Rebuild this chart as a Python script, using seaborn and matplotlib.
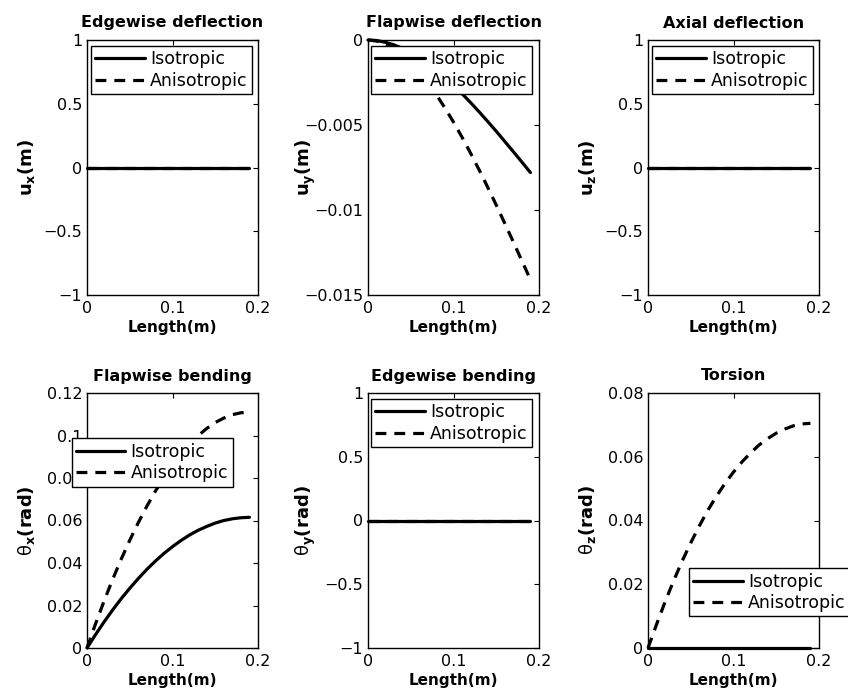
import numpy as np
import pandas as pd
import matplotlib
matplotlib.use("Agg")
import matplotlib.pyplot as plt
import seaborn as sns

# ---------------- data ----------------
length = [0.00, 0.01, 0.02, 0.03, 0.04, 0.05, 0.06, 0.07, 0.08, 0.09,
          0.10, 0.11, 0.12, 0.13, 0.14, 0.15, 0.16, 0.17, 0.18, 0.19]

zeros = [0.0] * 20

uy_iso = [0, -0.00003, -0.00013, -0.00028, -0.00048, -0.00074, -0.00104, -0.00139,
          -0.00178, -0.00221, -0.00267, -0.00316, -0.00368, -0.00423, -0.00479,
          -0.00537, -0.00597, -0.00657, -0.00718, -0.0078]
uy_aniso = [0, -0.00006, -0.00023, -0.00050, -0.00087, -0.00134, -0.00189, -0.00252,
            -0.00322, -0.00400, -0.00483, -0.00572, -0.00666, -0.00764, -0.00866,
            -0.00971, -0.01079, -0.01188, -0.01299, -0.0141]

thx_iso = [0, 0.0063, 0.0123, 0.0179, 0.0232, 0.0281, 0.0327, 0.0370, 0.0409, 0.0445,
           0.0477, 0.0506, 0.0532, 0.0554, 0.0572, 0.0588, 0.0600, 0.0608, 0.0613, 0.0615]
thx_aniso = [0, 0.0114, 0.0221, 0.0323, 0.0418, 0.0507, 0.0590, 0.0667, 0.0738, 0.0803,
             0.0861, 0.0913, 0.0959, 0.0999, 0.1033, 0.1061, 0.1082, 0.1098, 0.1107, 0.1110]

thz_iso = zeros
thz_aniso = [0, 0.0074, 0.0145, 0.0211, 0.0273, 0.0330, 0.0383, 0.0432, 0.0476, 0.0516,
             0.0552, 0.0584, 0.0612, 0.0637, 0.0657, 0.0674, 0.0687, 0.0697, 0.0703, 0.0705]

titles = ["Edgewise deflection", "Flapwise deflection", "Axial deflection",
          "Flapwise bending", "Edgewise bending", "Torsion"]
ylabels = [r"u$_\mathbf{x}$(m)", r"u$_\mathbf{y}$(m)", r"u$_\mathbf{z}$(m)",
           r"$\mathrm{\theta}_\mathbf{x}$(rad)", r"$\mathrm{\theta}_\mathbf{y}$(rad)",
           r"$\mathrm{\theta}_\mathbf{z}$(rad)"]
series_iso = [zeros, uy_iso, zeros, thx_iso, zeros, thz_iso]
series_aniso = [zeros, uy_aniso, zeros, thx_aniso, zeros, thz_aniso]

unit_ticks = [-1, -0.5, 0, 0.5, 1]
unit_labels = ["\u22121", "\u22120.5", "0", "0.5", "1"]
uy_ticks = [-0.015, -0.01, -0.005, 0]
uy_labels = ["\u22120.015", "\u22120.01", "\u22120.005", "0"]
thx_ticks = [0, 0.02, 0.04, 0.06, 0.08, 0.1, 0.12]
thx_labels = ["0", "0.02", "0.04", "0.06", "0.08", "0.1", "0.12"]
thz_ticks = [0, 0.02, 0.04, 0.06, 0.08]
thz_labels = ["0", "0.02", "0.04", "0.06", "0.08"]
x_ticks = [0, 0.1, 0.2]
x_labels = ["0", "0.1", "0.2"]

yticks_all = [unit_ticks, uy_ticks, unit_ticks, thx_ticks, unit_ticks, thz_ticks]
ylabels_all = [unit_labels, uy_labels, unit_labels, thx_labels, unit_labels, thz_labels]

# ---------------- style ----------------
sns.set_style("white")
plt.rcParams.update({
    "font.family": ["DejaVu Sans"],
    "mathtext.fontset": "dejavusans",
    "xtick.direction": "in",
    "ytick.direction": "in",
    "xtick.top": True,
    "ytick.right": True,
    "xtick.major.size": 3.5,
    "ytick.major.size": 3.5,
    "xtick.major.width": 0.8,
    "ytick.major.width": 0.8,
    "axes.edgecolor": "black",
    "axes.linewidth": 1.0,
    "xtick.color": "black",
    "ytick.color": "black",
    "text.color": "black",
    "axes.labelcolor": "black",
})

fig = plt.figure(figsize=(8.48, 6.97), dpi=100)
W, H = 848.0, 697.0
lefts = [87, 368, 648]
tops = [40, 393]
aw, ah = 171, 255

# legend anchors (axes fraction: left, top)
leg_anchor = [(0.023, 0.976), (0.018, 0.976), (0.023, 0.976),
              (-0.09, 0.822), (0.018, 0.976), (0.24, 0.3125)]

for i in range(6):
    r, c = divmod(i, 3)
    ax = fig.add_axes([lefts[c] / W, 1 - (tops[r] + ah) / H, aw / W, ah / H])
    df = pd.DataFrame({"Length": length, "iso": series_iso[i], "aniso": series_aniso[i]})
    sns.lineplot(data=df, x="Length", y="iso", ax=ax, color="black", lw=2.3,
                 label="Isotropic", clip_on=False)
    sns.lineplot(data=df, x="Length", y="aniso", ax=ax, color="black", lw=2.3,
                 linestyle=(0, (3.4, 2.5)), label="Anisotropic", clip_on=False)
    ax.set_xlim(0, 0.2)
    yt = yticks_all[i]
    ax.set_ylim(yt[0], yt[-1])
    ax.set_xticks(x_ticks)
    ax.set_xticklabels(x_labels, fontsize=11.5)
    ax.set_yticks(yt)
    ax.set_yticklabels(ylabels_all[i], fontsize=11.5)
    ax.tick_params(axis="y", pad=3.5)
    ax.tick_params(axis="x", pad=4.5)
    ax.set_title(titles[i], fontsize=11.5, fontweight="bold", pad=9)
    ax.set_xlabel("Length(m)", fontsize=11, fontweight="bold", labelpad=3)
    ax.set_ylabel(ylabels[i], fontsize=13, fontweight="bold")
    ax.yaxis.set_label_coords(-0.29, 0.5)
    for s in ax.spines.values():
        s.set_visible(True)
        s.set_color("black")
    leg = ax.legend(loc="upper left", bbox_to_anchor=leg_anchor[i], borderaxespad=0,
                    fontsize=12.5, frameon=True, fancybox=False, framealpha=1,
                    edgecolor="black", handlelength=2.85, handletextpad=0.3,
                    labelspacing=0.2, borderpad=0.25)
    leg.get_frame().set_linewidth(1.0)
    leg.set_zorder(5)

fig.savefig("out.png", dpi=100, facecolor="white")
